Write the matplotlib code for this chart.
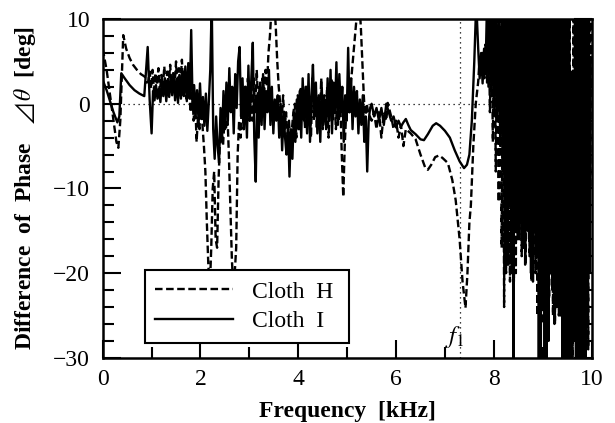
import matplotlib
matplotlib.use("Agg")
import matplotlib.pyplot as plt
from matplotlib.ticker import MultipleLocator

plt.rcParams["font.family"] = ["Liberation Serif", "DejaVu Sans"]
plt.rcParams["mathtext.fontset"] = "stix"

# Cloth H (dashed)
freq_h = [
    0.00, 0.08, 0.15, 0.22, 0.28, 0.32, 0.36, 0.42, 0.48, 0.55, 0.62, 0.70, 0.78, 0.86, 0.90,
    0.93, 0.96, 0.99, 1.02, 1.05, 1.08, 1.11, 1.14, 1.17, 1.20,
    1.23, 1.26, 1.29, 1.32, 1.35, 1.38, 1.41, 1.44, 1.47, 1.50,
    1.53, 1.56, 1.59, 1.62, 1.65, 1.68, 1.71, 1.74, 1.77, 1.80,
    1.83, 1.86, 1.89, 1.92, 1.95, 1.98, 2.01, 2.04, 2.07, 2.10,
    2.13, 2.16, 2.19, 2.22, 2.25, 2.28, 2.31, 2.34, 2.37, 2.40,
    2.43, 2.46, 2.49, 2.52, 2.55, 2.58, 2.61, 2.64, 2.67, 2.70,
    2.73, 2.76, 2.79, 2.82, 2.85, 2.88, 2.91, 2.94, 2.97, 3.00,
    3.03, 3.06, 3.09, 3.12, 3.15, 3.18, 3.21, 3.24, 3.27, 3.30,
    3.33, 3.36, 3.39, 3.42, 3.45, 3.48, 3.51, 3.54, 3.57, 3.60,
    3.63, 3.66, 3.69, 3.72, 3.75, 3.78, 3.81, 3.84, 3.87, 3.90,
    3.93, 3.96, 3.99, 4.02, 4.05, 4.08, 4.11, 4.14, 4.17, 4.20,
    4.23, 4.26, 4.29, 4.32, 4.35, 4.38, 4.41, 4.44, 4.47, 4.50,
    4.53, 4.56, 4.59, 4.62, 4.65, 4.68, 4.71, 4.74, 4.77, 4.80,
    4.83, 4.86, 4.89, 4.92, 4.95, 4.98, 5.01, 5.04, 5.07, 5.10,
    5.13, 5.16, 5.19, 5.22, 5.25, 5.28, 5.31, 5.34, 5.37, 5.40,
    5.43, 5.50, 5.55, 5.60, 5.65, 5.70, 5.75, 5.80, 5.83, 5.90, 5.95, 6.00, 6.05, 6.10, 6.15,
    6.20, 6.30, 6.40, 6.50, 6.60, 6.65, 6.72, 6.80, 6.88, 6.95, 7.06, 7.15, 7.22, 7.30, 7.36,
    7.42, 7.46, 7.50, 7.53, 7.58, 7.63, 7.68, 7.71, 7.74, 7.77, 7.80, 7.83, 7.86, 7.89, 7.92,
    7.95, 7.98, 8.01, 8.04, 8.07, 8.10, 8.13, 8.16, 8.19, 8.21,
    8.23, 8.25, 8.27, 8.29, 8.31, 8.33, 8.35, 8.37, 8.39, 8.41, 8.43, 8.45, 8.47, 8.49, 8.51,
    8.53, 8.55, 8.57, 8.59, 8.61, 8.63, 8.65, 8.67, 8.69, 8.71, 8.73, 8.75, 8.77, 8.79, 8.81,
    8.83, 8.85, 8.87, 8.89, 8.91, 8.93, 8.95, 8.97, 8.99, 9.01, 9.03, 9.05, 9.07, 9.09, 9.11,
    9.13, 9.15, 9.17, 9.19, 9.21, 9.23, 9.25, 9.27, 9.29, 9.31, 9.33, 9.35, 9.37, 9.39, 9.41,
    9.43, 9.45, 9.47, 9.49, 9.51, 9.53, 9.55, 9.57, 9.59, 9.61, 9.63, 9.65, 9.67, 9.69, 9.71,
    9.73, 9.75, 9.77, 9.79, 9.81, 9.83, 9.85, 9.87, 9.89, 9.91, 9.93, 9.95, 9.97, 9.99,
]
phase_h = [
    6.5, 4.0, 1.0, -2.0, -4.5, -5.2, -2.0, 8.1, 6.5, 5.4, 4.6, 4.0, 3.5, 3.2, 2.5,
    2.6, 3.8, 1.8, 4.0, 1.6, 3.6, 2.2, 4.2, 1.4, 3.4,
    2.0, 4.4, 1.2, 3.8, 2.4, 4.6, 1.6, 3.6, 2.0, 5.0,
    1.4, 4.2, 2.2, 5.2, 1.0, 4.0, 0.6, 3.4, 1.2, -1.0,
    2.0, -2.0, 1.0, -4.5, -1.5, -3.0, 0.5, -2.5, -5.0, -8.0,
    -14, -19, -22, -17, -10, -8, -16, -17, -9, -4,
    -1, -5, -2, -3, -1, -6, -12, -18, -22, -20,
    -17, -6, -2, -4, 1, -3, 2, -1, 3, -2,
    2, -2, 3, -1, 4, 0, 2, -2, 3, 1,
    4, 2, 6, 8, 11, 12, 12, 9, 5, 2,
    0, -2, 1, -3, -1, -4, -2, -5, -3, -1,
    0, -4, 1, -3, 2, -2, 0, -3, 2, -2,
    1, -4, 3, -2, 2, -3, 1, -2, 3, -3,
    1, -2, 2, -4, 0, 3, -2, 1, -3, 2,
    -2, 0, -6, -11, -5, -1, 1, -1, 2, 4,
    6, 8, 10, 12, 12, 9, 5, 1, -2, 0,
    -1, -2, -1, -3, -1, -4, -1, -2, 0.1, -1.5, -3, -2, -4, -2.5, -5,
    -3, -3.5, -4.2, -6.0, -7.6, -7.8, -7.2, -6.3, -6.1, -6.4, -7.0, -9.0, -11.4, -16, -21,
    -24.1, -20, -14, -12, -5, 0, 2.6, 5.5, 3.4, 6.0, 3.0, 7.0, 2.5, 12, -1.0,
    12, -4.5, 12, -8, 12, -11.6, 12, -17, 12, -24,
    12, -20, 12, -19, 12, -21, 12, -20, 12, -21, 12, -20, 12, -16, 12,
    -14, 12, -18, 12, -17, 12, -19, 12, -15, 12, -18, 12, -21, 12, -18,
    12, -20, 12, -25, 12, -22, 12, -20, 12, -26, 12, -24, 12, -21, 12,
    -23, 12, -20, 12, -25, 12, -26, 12, -24, 12, -25, 12, -22, 12, -30,
    12, -31, 12, -29, 12, -31, 12, -27, 4, -30, 12, -28, 12, -31, 12,
    -29, 12, -30, 12, -28, 12, -31, 12, -25, 12, -29, 12, -10, 12,
]

# Cloth I (solid)
freq_i = [
    0.00, 0.08, 0.15, 0.22, 0.30, 0.34, 0.38, 0.45, 0.55, 0.65, 0.75, 0.85, 0.92, 0.96, 1.00,
    1.03, 1.06, 1.09, 1.12, 1.15, 1.18, 1.21, 1.24, 1.27, 1.30,
    1.33, 1.36, 1.39, 1.42, 1.45, 1.48, 1.51, 1.54, 1.57, 1.60,
    1.63, 1.66, 1.69, 1.72, 1.75, 1.78, 1.81, 1.84, 1.87, 1.90,
    1.93, 1.96, 1.99, 2.02, 2.05, 2.08, 2.11, 2.14, 2.17, 2.20,
    2.23, 2.26, 2.29, 2.32, 2.35, 2.38, 2.41, 2.44, 2.47, 2.50,
    2.53, 2.56, 2.59, 2.62, 2.65, 2.68, 2.71, 2.74, 2.77, 2.80,
    2.83, 2.86, 2.89, 2.92, 2.95, 2.98, 3.01, 3.04, 3.07, 3.10,
    3.13, 3.16, 3.19, 3.22, 3.25, 3.28, 3.31, 3.34, 3.37, 3.40,
    3.43, 3.46, 3.49, 3.52, 3.55, 3.58, 3.61, 3.64, 3.67, 3.70,
    3.73, 3.76, 3.79, 3.82, 3.85, 3.88, 3.91, 3.94, 3.97, 4.00,
    4.03, 4.06, 4.09, 4.12, 4.15, 4.18, 4.21, 4.24, 4.27, 4.30,
    4.33, 4.36, 4.39, 4.42, 4.45, 4.48, 4.51, 4.54, 4.57, 4.60,
    4.63, 4.66, 4.69, 4.72, 4.75, 4.78, 4.81, 4.84, 4.87, 4.90,
    4.93, 4.96, 4.99, 5.02, 5.05, 5.08, 5.11, 5.14, 5.17, 5.20,
    5.23, 5.26, 5.29, 5.32, 5.35, 5.38, 5.41, 5.44, 5.47, 5.50,
    5.55, 5.60, 5.65, 5.70, 5.75, 5.80, 5.85, 5.90, 5.95, 6.00, 6.05, 6.10, 6.15, 6.20, 6.25,
    6.30, 6.40, 6.50, 6.57, 6.65, 6.75, 6.82, 6.90, 7.00, 7.10, 7.20, 7.30, 7.39, 7.45, 7.50,
    7.55, 7.60, 7.64, 7.68, 7.71, 7.74, 7.77, 7.80, 7.83, 7.86, 7.89, 7.92, 7.95, 7.98, 8.01,
    8.04, 8.07, 8.10, 8.13, 8.16, 8.19,
    8.22, 8.24, 8.26, 8.28, 8.30, 8.32, 8.34, 8.36, 8.38, 8.40, 8.42, 8.44, 8.46, 8.48, 8.50,
    8.52, 8.54, 8.56, 8.58, 8.60, 8.62, 8.64, 8.66, 8.68, 8.70, 8.72, 8.74, 8.76, 8.78, 8.80,
    8.82, 8.84, 8.86, 8.88, 8.90, 8.92, 8.94, 8.96, 8.98, 9.00, 9.02, 9.04, 9.06, 9.08, 9.10,
    9.12, 9.14, 9.16, 9.18, 9.20, 9.22, 9.24, 9.26, 9.28, 9.30, 9.32, 9.34, 9.36, 9.38, 9.40,
    9.42, 9.44, 9.46, 9.48, 9.50, 9.52, 9.54, 9.56, 9.58, 9.60, 9.62, 9.64, 9.66, 9.68, 9.70,
    9.72, 9.74, 9.76, 9.78, 9.80, 9.82, 9.84, 9.86, 9.88, 9.90, 9.92, 9.94, 9.96, 9.98,
]
phase_i = [
    2.8, 1.6, 0.3, -1.0, -2.2, -1.5, 3.6, 3.0, 2.2, 1.6, 1.2, 0.9, 6.7, 0.5, -3.5,
    1.5, 0.4, 2.2, 0.6, 1.8, 0.2, 2.6, 0.9, 3.0, 0.3,
    2.4, 0.8, 3.2, 1.0, 3.6, 0.4, 2.9, 0.1, 3.4, 0.6,
    3.8, 0.9, 4.4, 0.3, 4.8, 0.6, 8.7, -0.5, 2.2, -1.2,
    1.6, -2.0, 2.4, -1.5, 0.8, -2.6, 1.2, -3.2, 0.2, 4.0,
    12, -3.0, -6.5, -1.5, -5.0, -7.0, -0.5, -4.5, 1.5, -3.0,
    2.5, -2.0, 4.2, -1.0, 2.0, -3.5, 3.5, -0.5, 5.0, 6.7,
    -1.5, 3.0, -3.0, 2.0, -4.0, 4.5, -2.0, 3.0, 7.2, -4.0,
    -9.2, 1.0, -4.0, 2.5, -2.5, 3.5, -3.0, 1.5, -1.0, 4.0,
    -2.5, 2.0, -3.5, 0.5, -2.0, 1.0, -4.0, 0.0, -5.5, -1.0,
    -4.0, -6.0, -2.5, -8.6, -3.0, -6.5, -1.0, -4.5, 0.5, -3.0,
    1.5, -4.0, 3.0, -2.0, 2.0, -3.5, 3.5, -4.5, 1.0, 4.6,
    -1.5, 2.5, -3.5, 1.0, -4.5, 2.0, -2.5, 0.5, -3.0, 3.0,
    -2.0, 4.0, -3.5, 2.5, -1.0, 4.9, -2.5, 3.5, -1.0, 2.0,
    -4.5, 1.0, -2.0, 6.6, -1.0, 3.0, -3.0, 2.0, -1.5, 1.5,
    -3.5, 0.5, -2.5, 1.0, -4.5, -1.5, -8.0, -2.0, -0.5, 0.0,
    -1.5, -0.5, -2.0, -0.5, -2.5, 0.0, -1.0, -2.0, -1.5, -2.8, -2.0, -2.7, -2.2, -1.8, -2.5,
    -3.1, -3.6, -4.2, -4.3, -3.6, -2.6, -2.3, -2.6, -3.2, -4.0, -5.5, -6.8, -7.6, -7.2, -6.0,
    -2.0, 5.0, 12, 6.5, 3.0, 6.0, 2.4, 6.5, 3.5, 12, 2.0, 12, 1.0, 12, -1.0,
    12, -2.0, 12, -5.0, 12, -8.0,
    12, -10, 12, -14, 12, -12, 12, -18, 12, -32, 12, -15, 12, -12, 12,
    -16, 12, -14, 12, -17, 12, -19, 12, -13, 12, -16, 12, -20, 12, -21,
    12, -15, 12, -18, 12, -32, 12, -32, 12, -24, 12, -32, 12, -32, 12,
    -28, 12, -20, 12, -22, 12, -26, 12, -24, 12, -22, 12, -25, 12, -30,
    12, -32, 12, -32, 12, -32, 12, -30, 3.0, -32, 3.0, -28, 12, -32, 12,
    -32, 12, -32, 12, -32, 12, -32, 12, -30, 12, -26, 12, -20, 5.0,
]

f1_freq = 7.3

fig = plt.figure(figsize=(6.15, 4.23), dpi=100)
ax = fig.add_axes([0.167, 0.154, 0.795, 0.801])

ax.plot(freq_h, phase_h, color="black", lw=1.7, ls=(0, (3.2, 1.5)), label="Cloth  H")
ax.plot(freq_i, phase_i, color="black", lw=1.7, label="Cloth  I")
ax.axhline(0, color="black", lw=0.9, ls=(0, (1, 3)))
ax.axvline(f1_freq, color="black", lw=0.9, ls=(0, (1, 3)))
ax.text(7.2, -27.5, "$f_1$", fontsize=18, ha="center", va="center")

ax.set_xlim(0, 10)
ax.set_ylim(-30, 10)
ax.xaxis.set_major_locator(MultipleLocator(2))
ax.xaxis.set_minor_locator(MultipleLocator(1))
ax.yaxis.set_major_locator(MultipleLocator(10))
ax.yaxis.set_minor_locator(MultipleLocator(2))
ax.tick_params(which="both", direction="in", right=True, width=1.5, labelsize=17)
ax.tick_params(axis="x", which="both", pad=8)
ax.tick_params(axis="y", which="both", pad=9)
ax.tick_params(which="major", length=13)
ax.tick_params(which="minor", length=8)
ax.set_yticks([10, 0, -10, -20, -30])
ax.set_yticklabels(["10", "0", "\u221210", "\u221220", "\u221230"])
for s in ax.spines.values():
    s.set_linewidth(1.8)

ax.set_xlabel("Frequency  [kHz]", fontsize=17, fontweight="bold", labelpad=8)
ax.set_ylabel("Difference  of  Phase   $\u22bf\\,\\theta$  [deg]", fontsize=17,
              fontweight="bold", labelpad=11)

leg = ax.legend(loc="lower left", bbox_to_anchor=(0.086, 0.044, 0.417, 0.21), mode="expand",
                fontsize=17, handlelength=3.3, frameon=True, fancybox=False,
                borderaxespad=0, labelspacing=0.35, borderpad=0.45)
leg.get_frame().set_edgecolor("black")
leg.get_frame().set_linewidth(1.5)
leg.get_frame().set_alpha(1)

fig.savefig("out.png", dpi=100)
